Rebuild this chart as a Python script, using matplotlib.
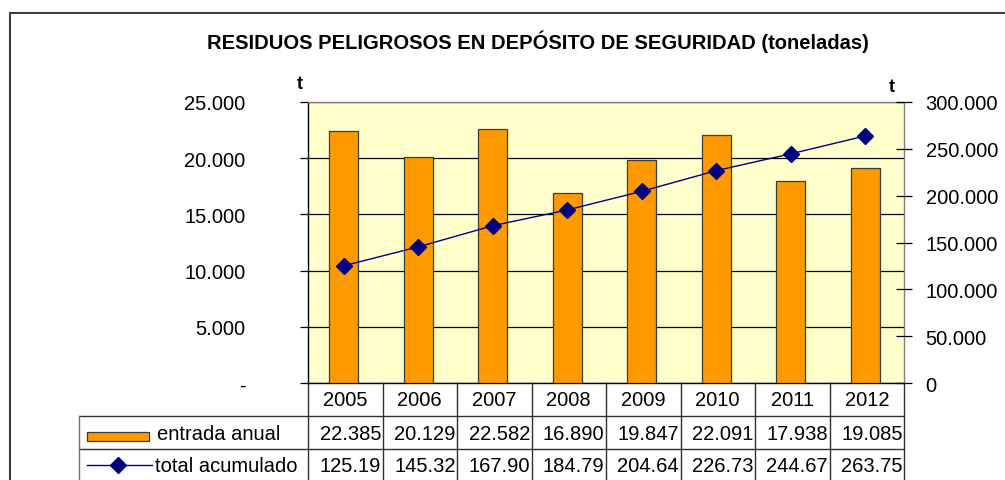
import matplotlib
matplotlib.use("Agg")
import matplotlib.pyplot as plt
import numpy as np
from matplotlib.lines import Line2D
from matplotlib.patches import Rectangle
from matplotlib.ticker import FuncFormatter
from matplotlib.transforms import blended_transform_factory

plt.rcParams["font.family"] = ["Liberation Sans", "DejaVu Sans"]

years = ["2005", "2006", "2007", "2008", "2009", "2010", "2011", "2012"]
entrada = [22385, 20129, 22582, 16890, 19847, 22091, 17938, 19085]
acumulado = [125.19, 145.32, 167.90, 184.79, 204.64, 226.73, 244.67, 263.75]  # miles de t

W, H = 1005, 481
BAR = "#FF9900"
NAVY = "#000080"
BG = "#FFFFCC"
LINE = "#303030"
FS = 14.5


def fx(px):
    return px / W


def fy(py):
    return 1 - py / H


def miles(v, pos=None):
    if v == 0:
        return "-"
    return f"{int(round(v)):,}".replace(",", ".")


def miles0(v, pos=None):
    if v == 0:
        return "0"
    return f"{int(round(v)):,}".replace(",", ".")


fig = plt.figure(figsize=(W / 100, H / 100), dpi=100)

# plot area
left, right, top, bottom = 308, 904, 103, 384
ax = fig.add_axes([fx(left), fy(bottom), (right - left) / W, (bottom - top) / H])
ax.set_facecolor(BG)
x = np.arange(len(years))
ax.bar(x - 0.02, entrada, width=0.39, color=BAR, edgecolor="#3a3a3a", linewidth=0.9, zorder=3)
ax.set_xlim(-0.5, len(years) - 0.5)
ax.set_ylim(0, 25000)
ax.set_yticks(np.arange(0, 25001, 5000))
ax.yaxis.set_major_formatter(FuncFormatter(miles))
ax.yaxis.grid(True, color="black", linewidth=0.9)
ax.set_axisbelow(True)
ax.set_xticks([])
ax.tick_params(axis="y", direction="out", length=6, width=0.9, pad=39, labelsize=FS)
for s in ["left", "bottom"]:
    ax.spines[s].set_color("black")
    ax.spines[s].set_linewidth(1)
for s in ["top", "right"]:
    ax.spines[s].set_color("#808080")
    ax.spines[s].set_linewidth(1)

ax2 = ax.twinx()
ax2.plot(x - 0.02, np.array(acumulado) * 1000, color=NAVY, linewidth=1, marker="D",
         markersize=8, markerfacecolor=NAVY, markeredgecolor=NAVY, zorder=4)
ax2.set_ylim(0, 300000)
ax2.set_yticks(np.arange(0, 300001, 50000))
ax2.yaxis.set_major_formatter(FuncFormatter(miles0))
ax2.tick_params(axis="y", direction="inout", length=11, width=0.9, pad=10, labelsize=FS)
for s in ax2.spines.values():
    s.set_visible(False)

# title and unit labels
fig.text(fx(538), fy(42), "RESIDUOS PELIGROSOS EN DEPÓSITO DE SEGURIDAD (toneladas)",
         ha="center", va="center", fontsize=14.5, fontweight="bold")
fig.text(fx(300), fy(85), "t", ha="center", va="center", fontsize=13, fontweight="bold")
fig.text(fx(892), fy(88), "t", ha="center", va="center", fontsize=13, fontweight="bold")

# data table below the axis
tr = blended_transform_factory(ax.transData, fig.transFigure)
row_y = [400, 434, 466]
for i in range(len(years) + 1):
    fig.add_artist(Line2D([i - 0.5, i - 0.5], [fy(bottom), fy(H)], transform=tr,
                          color=LINE, linewidth=1))
for yl in [417, 450]:
    fig.add_artist(Line2D([fx(79), fx(right)], [fy(yl), fy(yl)], color=LINE, linewidth=1))
fig.add_artist(Line2D([fx(79), fx(79)], [fy(417), fy(H)], color="#707070", linewidth=1))

for i, yr in enumerate(years):
    fig.text(i, fy(row_y[0]), yr, transform=tr, ha="center", va="center", fontsize=FS)
    fig.text(i + 0.48, fy(row_y[1]), miles(entrada[i]), transform=tr, ha="right",
             va="center", fontsize=FS)
    fig.text(i + 0.48, fy(row_y[2]), f"{acumulado[i]:.2f}", transform=tr, ha="right",
             va="center", fontsize=FS)

# legend keys in table
fig.add_artist(Rectangle((fx(87), fy(442)), (149 - 87) / W, 9 / H, facecolor=BAR,
                         edgecolor="#3a3a3a", linewidth=0.9))
fig.text(fx(157), fy(row_y[1]), "entrada anual", ha="left", va="center", fontsize=FS)
fig.add_artist(Line2D([fx(87), fx(152)], [fy(466), fy(466)], color=NAVY, linewidth=1))
fig.add_artist(Line2D([fx(118)], [fy(466)], color=NAVY, marker="D", markersize=8,
                      linestyle="none"))
fig.text(fx(155), fy(row_y[2]), "total acumulado", ha="left", va="center", fontsize=FS)

# outer chart border
fig.add_artist(Line2D([fx(10), fx(W)], [fy(14), fy(14)], color="#404040", linewidth=1.5))
fig.add_artist(Line2D([fx(10), fx(10)], [fy(14), fy(H)], color="#404040", linewidth=1.5))

fig.savefig("out.png", dpi=100, facecolor="white")
